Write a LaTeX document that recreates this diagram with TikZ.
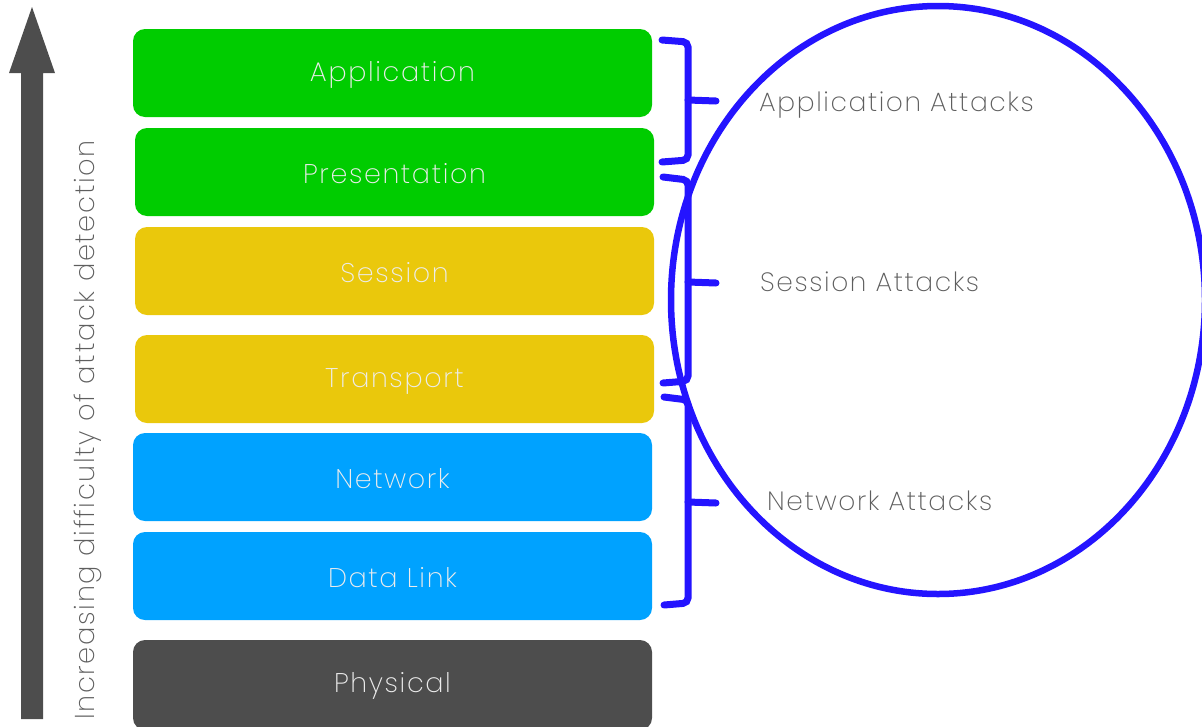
\documentclass[tikz,border=0pt]{standalone}
\usepackage{fontspec}
\setmainfont{Poppins}[UprightFont={* ExtraLight}, LetterSpace=6]
\usetikzlibrary{shapes.geometric}
\definecolor{lgreen}{HTML}{00CC00}
\definecolor{lyellow}{HTML}{EAC80C}
\definecolor{lblue}{HTML}{00A2FF}
\definecolor{lgray}{HTML}{4D4D4D}
\definecolor{bracecol}{HTML}{2414FF}
\definecolor{labelgray}{HTML}{5E5E5E}
\tikzset{
  layer/.style={draw=none, rounded corners=12pt, minimum width=519pt, minimum height=88pt,
    inner sep=0pt, text=white!85!gray, font=\fontsize{27}{30}\selectfont},
  layertext/.style={text=white!85!gray, font=\fontsize{27}{30}\selectfont, inner sep=0pt},
  bracket/.style={draw=bracecol, line width=7pt, rounded corners=5pt, line cap=round},
  attack/.style={text=labelgray, font=\fontsize{26.5}{30}\selectfont, anchor=west, inner sep=0pt}
}
\begin{document}
\begin{tikzpicture}[x=1pt, y=-1pt]
  \useasboundingbox (0,0) rectangle (1202,726);
  % direction arrow
  \fill[lgray] (21,719) -- (43,719) -- (43,73) -- (55,73) -- (32,7) -- (9,73) -- (21,73) -- cycle;
  \node[rotate=90, anchor=west, text=labelgray, inner sep=0pt, font=\fontsize{27.3}{30}\selectfont]
    (axis) at (88,720) {Increasing difficulty of attack detection};
  % OSI layers
  \node[layer, fill=lgreen]  (app)  at (392.5,73)  {};
  \node[layer, fill=lgreen]  (pres) at (394.5,172) {};
  \node[layer, fill=lyellow] (sess) at (394.5,271) {};
  \node[layer, fill=lyellow] (tran) at (394.5,379) {};
  \node[layer, fill=lblue]   (net)  at (392.5,477) {};
  \node[layer, fill=lblue]   (dl)   at (392.5,576) {};
  \node[layer, fill=lgray, minimum height=90pt] (phy) at (392.5,685) {};
  \node[layertext] (appt)  at ([yshift=-2pt]app.center)  {Application};
  \node[layertext] (prest) at ([yshift=-2pt]pres.center) {Presentation};
  \node[layertext] (sesst) at ([yshift=-2pt]sess.center) {Session};
  \node[layertext] (trant) at ([yshift=-2pt]tran.center) {Transport};
  \node[layertext] (nett)  at ([yshift=-2pt]net.center)  {Network};
  \node[layertext] (dlt)   at ([yshift=-2pt]dl.center)   {Data Link};
  \node[layertext] (phyt)  at ([yshift=-1pt]phy.center)  {Physical};
  % grouping ellipse
  \draw[bracecol, line width=6.5pt] (938,300) ellipse [x radius=267, y radius=294];
  % brackets
  \draw[bracket] (662,40) -- (688,42) -- (688,160) -- (662,162);
  \draw[bracket] (688,100) -- (716,101);
  \draw[bracket] (663,177) -- (688,180) -- (688,381) -- (663,383);
  \draw[bracket] (688,282) -- (716,283);
  \draw[bracket] (664,397) -- (688,400) -- (688,603) -- (664,605);
  \draw[bracket] (688,502) -- (716,503);
  % attack labels
  \node[attack] (aa) at (759,105) {Application Attacks};
  \node[attack] (sa) at (760,282) {Session Attacks};
  \node[attack] (na) at (767,501) {Network Attacks};
\end{tikzpicture}
\end{document}
